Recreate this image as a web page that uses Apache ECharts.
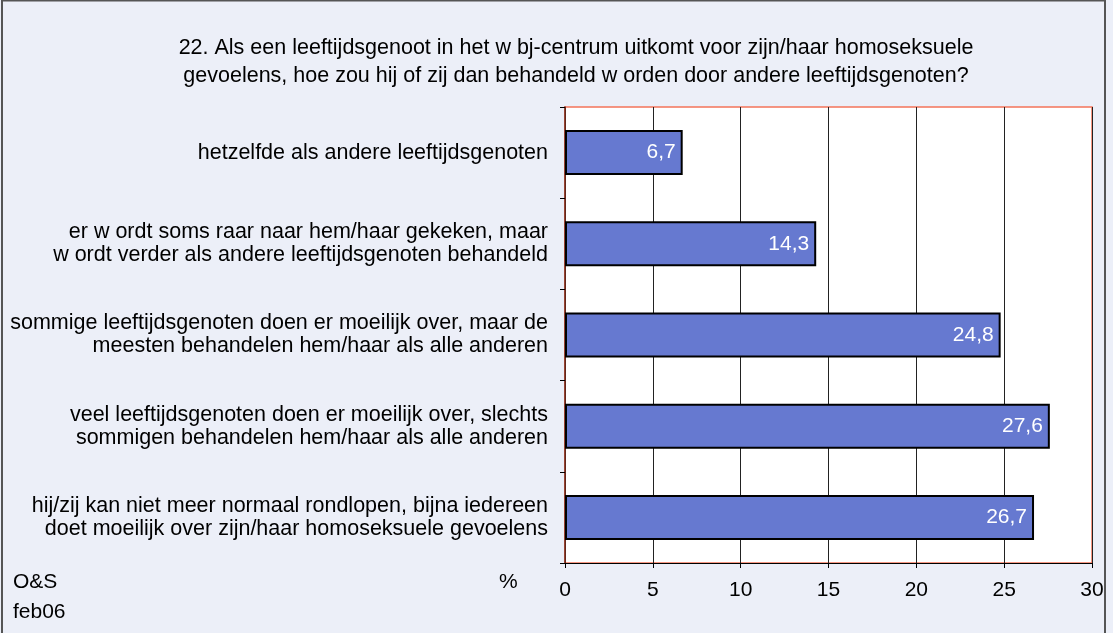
<!DOCTYPE html>
<html>
<head>
<meta charset="utf-8">
<script src="https://cdn.jsdelivr.net/npm/echarts@6/dist/echarts.min.js"></script>
<style>
  html, body { margin: 0; padding: 0; background: #eceff8; }
  #chart { width: 1113px; height: 633px; }
</style>
</head>
<body>
<div id="chart"></div>
<script>
const TITLE_LINES = [
    '22. Als een leeftijdsgenoot in het w bj-centrum uitkomt voor zijn/haar homoseksuele',
    'gevoelens, hoe zou hij of zij dan behandeld w orden door andere leeftijdsgenoten?'
];

const CATEGORIES = [
    'hetzelfde als andere leeftijdsgenoten',
    'er w ordt soms raar naar hem/haar gekeken, maar\nw ordt verder als andere leeftijdsgenoten behandeld',
    'sommige leeftijdsgenoten doen er moeilijk over, maar de\nmeesten behandelen hem/haar als alle anderen',
    'veel leeftijdsgenoten doen er moeilijk over, slechts\nsommigen behandelen hem/haar als alle anderen',
    'hij/zij kan niet meer normaal rondlopen, bijna iedereen\ndoet moeilijk over zijn/haar homoseksuele gevoelens'
];

const VALUES = [6.7, 14.3, 24.8, 27.6, 26.7];

const X_TICKS = [0, 5, 10, 15, 20, 25, 30];

const FONT = '"Liberation Sans", Arial, sans-serif';

const chart = echarts.init(document.getElementById('chart'), null, { renderer: 'canvas' });

chart.setOption({
    backgroundColor: '#eceff8',
    animation: false,
    textStyle: { fontFamily: FONT },
    title: {
        text: TITLE_LINES.join('\n'),
        left: 571,
        top: 29,
        textAlign: 'center',
        textStyle: { fontFamily: FONT, fontSize: 21.5, fontWeight: 'normal', color: '#000', lineHeight: 28 }
    },
    grid: {
        left: 565, right: 21, top: 107, bottom: 70,
        show: true,
        backgroundColor: '#ffffff',
        borderColor: '#f4745a',
        borderWidth: 1.5
    },
    xAxis: {
        type: 'value',
        min: X_TICKS[0],
        max: X_TICKS[X_TICKS.length - 1],
        interval: 5,
        axisLine: { show: true, lineStyle: { color: '#000', width: 1 } },
        axisTick: { show: true, length: 5, lineStyle: { color: '#000' } },
        axisLabel: { color: '#000', fontSize: 21, fontFamily: FONT, margin: 17 },
        splitLine: { show: true, lineStyle: { color: '#222', width: 1 } }
    },
    yAxis: {
        type: 'category',
        inverse: true,
        data: CATEGORIES,
        axisLine: { show: true, lineStyle: { color: '#7a2a1a', width: 1.5 } },
        axisTick: { show: true, length: 5, lineStyle: { color: '#000' } },
        axisLabel: {
            color: '#000', fontSize: 21.5, fontFamily: FONT,
            margin: 17, lineHeight: 23, align: 'right'
        },
        splitLine: { show: false }
    },
    series: [{
        type: 'bar',
        data: VALUES,
        barWidth: 45,
        itemStyle: { color: '#6679d0', borderColor: '#000', borderWidth: 2 },
        label: {
            show: true,
            position: 'insideRight',
            distance: 7,
            color: '#fff',
            fontSize: 21,
            fontFamily: FONT,
            formatter: p => String(p.value).replace('.', ',')
        }
    }],
    graphic: [
        {
            type: 'rect',
            shape: { x: 2, y: 0.5, width: 1103, height: 640 },
            style: { fill: 'none', stroke: '#555', lineWidth: 2 },
            silent: true
        },
        {
            type: 'text', left: 13, top: 572,
            style: { text: 'O&S', font: '21px ' + FONT, fill: '#000' }
        },
        {
            type: 'text', left: 13, top: 602,
            style: { text: 'feb06', font: '21px ' + FONT, fill: '#000' }
        },
        {
            type: 'text', left: 499, top: 572,
            style: { text: '%', font: '21px ' + FONT, fill: '#000' }
        }
    ]
});
</script>
</body>
</html>
